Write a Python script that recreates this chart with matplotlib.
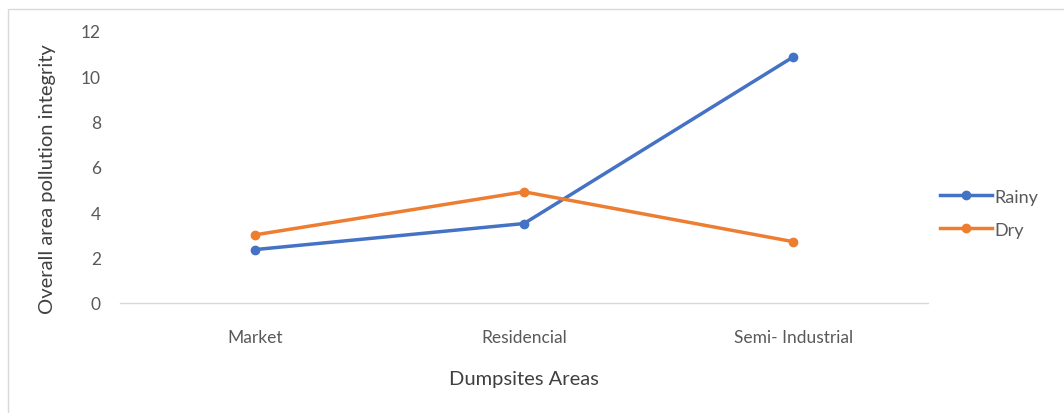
import matplotlib.pyplot as plt
from matplotlib.patches import Rectangle

areas = ['Market', 'Residencial', 'Semi- Industrial']
rainy = [2.35, 3.5, 10.85]
dry = [3.0, 4.9, 2.7]

blue = '#4472C4'
orange = '#ED7D31'
grey = '#595959'

plt.rcParams['font.family'] = ['Lato', 'DejaVu Sans']

fig = plt.figure(figsize=(10.64, 4.14), dpi=100)
ax = fig.add_axes([0.113, 0.266, 0.759, 0.657])

x = [0.5, 1.5, 2.5]
ax.plot(x, rainy, color=blue, lw=2.5, marker='o', ms=6, label='Rainy')
ax.plot(x, dry, color=orange, lw=2.5, marker='o', ms=6, label='Dry')

ax.set_xlim(0, 3)
ax.set_ylim(0, 12)
ax.set_yticks(range(0, 13, 2))
ax.set_xticks(x)
ax.set_xticklabels(areas)

for s in ['top', 'right', 'left']:
    ax.spines[s].set_visible(False)
ax.spines['bottom'].set_color('#d9d9d9')
ax.spines['bottom'].set_linewidth(1.0)
ax.tick_params(axis='both', length=0, labelsize=12.5, labelcolor=grey)
ax.tick_params(axis='x', pad=19)
ax.tick_params(axis='y', pad=14)

ax.set_xlabel('Dumpsites Areas', fontsize=14.5, color='#404040', labelpad=18)
ax.set_ylabel('Overall area pollution integrity', fontsize=14.5, color='#404040')
ax.yaxis.set_label_coords(-0.08, 0.46)

ax.legend(loc='center left', bbox_to_anchor=(0.995, 0.33), frameon=False,
          fontsize=13, labelcolor=grey, handlelength=2.9, handletextpad=0.1,
          labelspacing=0.95)

# chart border
fig.patches.append(Rectangle((8 / 1064, -0.05), 1.1, 1 - 10 / 414 + 0.05,
                             transform=fig.transFigure, fill=False,
                             edgecolor='#d9d9d9', lw=1.0))

fig.savefig('out.png', dpi=100)
